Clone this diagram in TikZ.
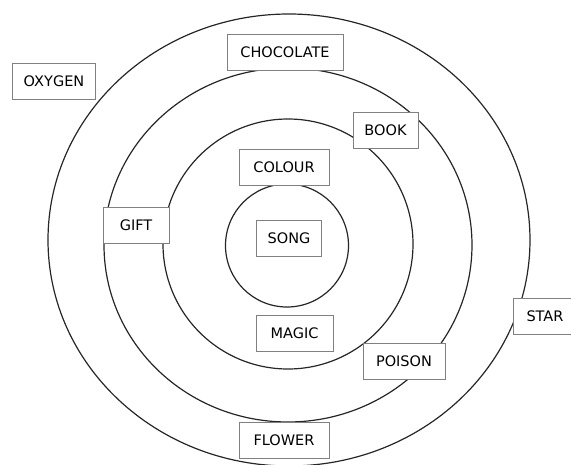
\documentclass[tikz,border=0pt]{standalone}
\usepackage{fontspec}
\setmainfont{DejaVu Sans}
\usepackage{tikz}

\begin{document}
\begin{tikzpicture}[
    x=1pt, y=-1pt,
    ring/.style={draw=black!85, line width=1.2pt},
    word/.style={rectangle, draw=black!50, fill=white, line width=0.9pt, minimum height=36pt, inner xsep=11pt, font=\fontsize{14.5}{17}\selectfont}
]
\useasboundingbox (0,0) rectangle (571,464);

\draw[ring] (289,240) ellipse [x radius=241, y radius=226];
\draw[ring] (288,245) ellipse [x radius=184, y radius=177];
\draw[ring] (288,244) circle [radius=125];
\draw[ring] (287,245.5) circle [radius=61.5];

\node[word] (oxygen) at (54,81) {OXYGEN};
\node[word, minimum width=116pt] (choc) at (285,52) {CHOCOLATE};
\node[word, minimum width=65pt] (book) at (385.5,130) {BOOK};
\node[word, minimum width=90pt] (colour) at (284,167) {COLOUR};
\node[word, minimum width=66pt] (gift) at (136,225) {GIFT};
\node[word, minimum width=64pt] (song) at (289,238.5) {SONG};
\node[word, minimum width=77pt] (magic) at (294.5,333.5) {MAGIC};
\node[word, minimum width=82pt] (poison) at (404,361) {POISON};
\node[word, minimum width=90pt] (flower) at (284,440) {FLOWER};
\node[word, minimum width=64pt] (star) at (545,316.5) {STAR};
\end{tikzpicture}
\end{document}
